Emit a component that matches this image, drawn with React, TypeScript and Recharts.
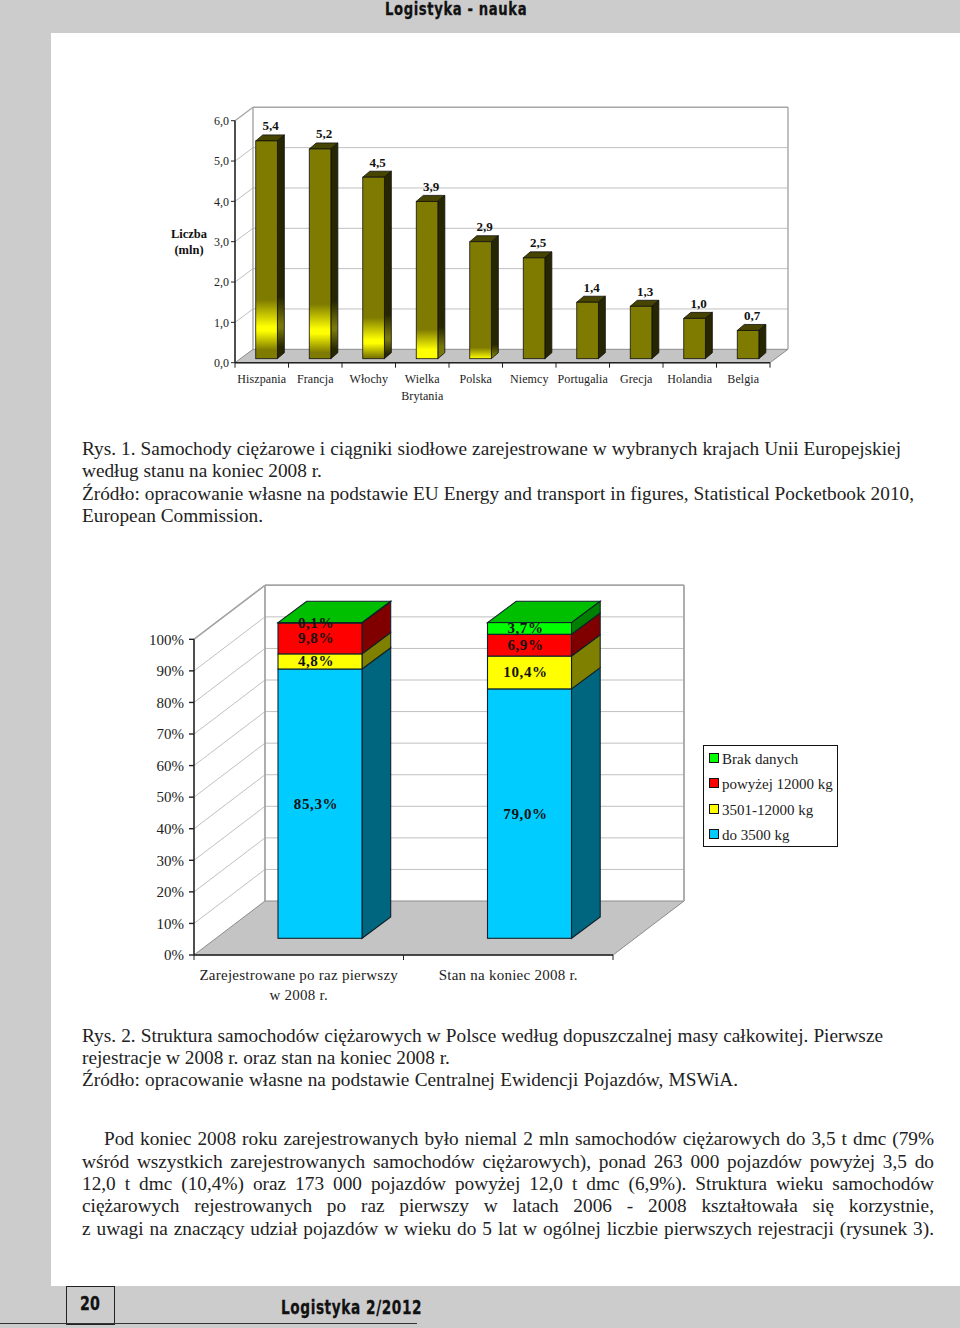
import { BarChart, Bar, XAxis, YAxis, CartesianGrid, LabelList, Legend } from 'recharts';

// chart 1: trucks and tractors by country
const countries = ['Hiszpania', 'Francja', 'Włochy', 'Wielka\nBrytania', 'Polska', 'Niemcy', 'Portugalia', 'Grecja', 'Holandia', 'Belgia'];
const vehicleCounts = [5.4, 5.2, 4.5, 3.9, 2.9, 2.5, 1.4, 1.3, 1.0, 0.7];
const countTicks = [0, 1, 2, 3, 4, 5, 6];

// chart 2: structure by permissible mass
const groups = ['Zarejestrowane po raz pierwszy\nw 2008 r.', 'Stan na koniec 2008 r.'];
const upTo3500 = [85.3, 79.0];
const from3501 = [4.8, 10.4];
const over12000 = [9.8, 6.9];
const noData = [0.1, 3.7];
const percentTicks = [0, 10, 20, 30, 40, 50, 60, 70, 80, 90, 100];
const legendOrder = ['Brak danych', 'powyżej 12000 kg', '3501-12000 kg', 'do 3500 kg'];

const countData = countries.map((name, i) => ({ name, value: vehicleCounts[i] }));
const massData = groups.map((name, i) => ({
  name,
  upTo3500: upTo3500[i],
  from3501: from3501[i],
  over12000: over12000[i],
  noData: noData[i],
}));

// yellow glow on the olive bars: [start, peak, end] as share of bar height from the base
const glows: Record<number, number[]> = {
  0: [0.27, 0.147, 0.04],
  1: [0.26, 0.14, 0.03],
  2: [0.227, 0.105, 0.01],
  3: [0.185, 0.057, 0],
  4: [0.094, 0, 0],
};

const SERIF = '"Liberation Serif", serif';
const comma = (v: number) => v.toFixed(1).replace('.', ',');

// back wall, side wall and floor of the fake 3d box, drawn from the grid lines
function wallLine(dx: number, dy: number, plotHeight: number, thin: string) {
  return (p: any) => {
    const { x1, x2, y1, key } = p;
    const bottom = Math.abs(y1 - (p.offset?.top ?? 0) - plotHeight) < 0.5;
    const isTop = Math.abs(y1 - (p.offset?.top ?? 0)) < 0.5;
    return (
      <g key={key}>
        {bottom && (
          <polygon
            points={`${x1},${y1} ${x1 + dx},${y1 - dy} ${x2 + dx},${y1 - dy} ${x2},${y1}`}
            fill="#c4c4c4"
            stroke="#8c8c8c"
            strokeWidth={1}
          />
        )}
        {isTop && (
          <g stroke="#a6a6a6" strokeWidth={1.4}>
            <line x1={x1 + dx} y1={y1 - dy} x2={x1 + dx} y2={y1 - dy + plotHeight} />
            <line x1={x2 + dx} y1={y1 - dy} x2={x2 + dx} y2={y1 - dy + plotHeight} />
          </g>
        )}
        {!bottom && <line x1={x1 + dx} y1={y1 - dy} x2={x2 + dx} y2={y1 - dy} stroke={isTop ? '#a6a6a6' : '#c0c0c0'} strokeWidth={isTop ? 1.4 : 1} />}
        {!bottom && <line x1={x1} y1={y1} x2={x1 + dx} y2={y1 - dy} stroke={isTop ? '#a6a6a6' : thin} strokeWidth={isTop ? 1.4 : 1} />}
      </g>
    );
  };
}

function OliveBar(props: any) {
  const { x, y, width, height, index } = props;
  const fx = x + 4.75;
  const fy = y - 4;
  const dx = 7;
  const dy = 6;
  const glow = glows[index];
  const stops = (base: string, peak: string) => {
    if (!glow) return null;
    const [start, top, end] = glow;
    return (
      <>
        <stop offset={1 - start} stopColor={base} />
        <stop offset={1 - top} stopColor={peak} />
        <stop offset={1 - top + 0.02} stopColor={peak} />
        <stop offset={1 - end} stopColor={end === 0 ? peak : base} />
      </>
    );
  };
  const front = glow ? `url(#glowFront${index})` : '#7f7b00';
  const side = glow ? `url(#glowSide${index})` : '#262600';
  return (
    <g>
      {glow && (
        <defs>
          <linearGradient id={`glowFront${index}`} gradientUnits="userSpaceOnUse" x1={0} x2={0} y1={fy} y2={fy + height}>
            {stops('#7f7b00', '#ffff00')}
          </linearGradient>
          <linearGradient id={`glowSide${index}`} gradientUnits="userSpaceOnUse" x1={0} x2={0} y1={fy - dy / 2} y2={fy + height - dy / 2}>
            {stops('#262600', '#77770a')}
          </linearGradient>
        </defs>
      )}
      <polygon points={`${fx},${fy} ${fx + dx},${fy - dy} ${fx + width + dx},${fy - dy} ${fx + width},${fy}`} fill="#474400" stroke="#111" strokeWidth={0.8} />
      <polygon points={`${fx + width},${fy} ${fx + width + dx},${fy - dy} ${fx + width + dx},${fy + height - dy} ${fx + width},${fy + height}`} fill={side} stroke="#111" strokeWidth={0.8} />
      <rect x={fx} y={fy} width={width} height={height} fill={front} stroke="#111" strokeWidth={0.8} />
    </g>
  );
}

function StackBlock(props: any) {
  const { x, y, width, height, fill, sideFill, topFill } = props;
  const fx = x + 21;
  const fy = y - 16.7;
  const dx = 28.7;
  const dy = 21.3;
  return (
    <g stroke="#10202a" strokeWidth={1.1}>
      {topFill && <polygon points={`${fx},${fy} ${fx + dx},${fy - dy} ${fx + width + dx},${fy - dy} ${fx + width},${fy}`} fill={topFill} />}
      <polygon points={`${fx + width},${fy} ${fx + width + dx},${fy - dy} ${fx + width + dx},${fy + height - dy} ${fx + width},${fy + height}`} fill={sideFill} />
      <rect x={fx} y={fy} width={width} height={height} fill={fill} />
    </g>
  );
}

function countLabel(p: any) {
  const { x, y, width, value } = p;
  return (
    <text x={x + width / 2 + 8.75} y={y - 14.5} textAnchor="middle" fontFamily={SERIF} fontSize={13} fontWeight="bold" fill="#111">
      {comma(value)}
    </text>
  );
}

function massLabel(p: any) {
  const { x, y, width, height, value } = p;
  return (
    <text
      x={x + width / 2 + 17}
      y={y + height / 2 - 16.7 + 5}
      textAnchor="middle"
      fontFamily={SERIF}
      fontSize={15}
      fontWeight="bold"
      letterSpacing={0.6}
      fill="#111"
    >
      {comma(value)}%
    </text>
  );
}

// tick marks in this chart sit between categories, so they are drawn with the labels
function categoryTick(band: number, fontSize: number, lineGap: number, axisY: number, spacing: number, drop: number) {
  return (p: any) => {
    const { x, y, payload, index } = p;
    const lines = String(payload.value).split('\n');
    const last = index === p.visibleTicksCount - 1;
    return (
      <g>
        <line x1={x - band / 2} x2={x - band / 2} y1={axisY} y2={axisY + 5} stroke="#222" />
        {last && <line x1={x + band / 2} x2={x + band / 2} y1={axisY} y2={axisY + 5} stroke="#222" />}
        <text x={x} y={y + drop} textAnchor="middle" fontFamily={SERIF} fontSize={fontSize} letterSpacing={spacing} fill="#222">
          {lines.map((line, i) => (
            <tspan key={line} x={x} dy={i === 0 ? 0 : lineGap}>
              {line}
            </tspan>
          ))}
        </text>
      </g>
    );
  };
}

function MassLegend({ payload }: any) {
  const items = legendOrder.map((name) => (payload || []).find((item: any) => item.value === name)).filter(Boolean);
  return (
    <div style={{ border: '1.5px solid #111', background: '#fff', width: 133, height: 100, boxSizing: 'content-box', fontFamily: SERIF, fontSize: 15, color: '#222', position: 'relative' }}>
      {items.map((item: any, i: number) => (
        <div key={item.value} style={{ position: 'absolute', left: 5, top: 3 + i * 25.3, height: 20, lineHeight: '20px', whiteSpace: 'nowrap', textAlign: 'left' }}>
          <span style={{ display: 'inline-block', width: 8, height: 8, background: item.color, border: '1px solid #111', marginRight: 3, verticalAlign: 1 }} />
          {item.value}
        </div>
      ))}
    </div>
  );
}

const captionLines = [
  { text: 'Rys. 1. Samochody ciężarowe i ciągniki siodłowe zarejestrowane w wybranych krajach Unii Europejskiej', x: 82, y: 449, w: 819 },
  { text: 'według stanu na koniec 2008 r.', x: 82, y: 471 },
  { text: 'Źródło: opracowanie własne na podstawie EU Energy and transport in figures, Statistical Pocketbook 2010,', x: 82, y: 494, w: 832 },
  { text: 'European Commission.', x: 82, y: 516 },
  { text: 'Rys. 2. Struktura samochodów ciężarowych w Polsce według dopuszczalnej masy całkowitej. Pierwsze', x: 82, y: 1036, w: 801 },
  { text: 'rejestracje w 2008 r. oraz stan na koniec 2008 r.', x: 82, y: 1058 },
  { text: 'Źródło: opracowanie własne na podstawie Centralnej Ewidencji Pojazdów, MSWiA.', x: 82, y: 1080, w: 656 },
  { text: 'Pod koniec 2008 roku zarejestrowanych było niemal 2 mln samochodów ciężarowych do 3,5 t dmc (79%', x: 104, y: 1139, w: 830 },
  { text: 'wśród wszystkich zarejestrowanych samochodów ciężarowych), ponad 263 000 pojazdów powyżej 3,5 do', x: 82, y: 1162, w: 852 },
  { text: '12,0 t dmc (10,4%) oraz 173 000 pojazdów powyżej 12,0 t dmc (6,9%). Struktura wieku samochodów', x: 82, y: 1184, w: 852 },
  { text: 'ciężarowych rejestrowanych po raz pierwszy w latach 2006 - 2008 kształtowała się korzystnie,', x: 82, y: 1206, w: 852 },
  { text: 'z uwagi na znaczący udział pojazdów w wieku do 5 lat w ogólnej  liczbie  pierwszych  rejestracji (rysunek 3).', x: 82, y: 1229, w: 852 },
];

const HEAD_FONT = { fontFamily: '"DejaVu Sans", sans-serif', fontWeight: 'bold', color: '#111', transformOrigin: 'left center', whiteSpace: 'nowrap', WebkitTextStroke: '0.3px #111' } as const;

export default function App() {
  return (
    <div style={{ position: 'absolute', left: 0, top: 0, width: 960, height: 1328, background: '#cccccc', overflow: 'hidden' }}>
      <div style={{ position: 'absolute', left: 51, top: 33, width: 909, height: 1253, background: '#fff' }} />

      <div style={{ ...HEAD_FONT, position: 'absolute', left: 385, top: 0, fontSize: 17, letterSpacing: 0.8, lineHeight: '19px', transform: 'scaleX(0.775)' }}>
        Logistyka - nauka
      </div>

      <div style={{ position: 'absolute', left: 0, top: 0 }}>
        <BarChart
          width={960}
          height={420}
          data={countData}
          margin={{ left: 175, right: 190, top: 120.7, bottom: 17.3 }}
          barSize={21.6}
        >
          <CartesianGrid vertical={false} horizontal={wallLine(18, 13.4, 242, '#c0c0c0')} />
          <XAxis
            dataKey="name"
            interval={0}
            height={40}
            tickLine={false}
            axisLine={{ stroke: '#222', strokeWidth: 1.6 }}
            tick={categoryTick(53.5, 12, 17, 362.7, 0.1, 12)}
          />
          <YAxis
            width={60}
            domain={[0, 6]}
            ticks={countTicks}
            tickFormatter={comma}
            tickSize={4}
            tickMargin={2}
            tick={{ fontFamily: SERIF, fontSize: 12, fill: '#222' }}
            tickLine={{ stroke: '#222' }}
            axisLine={{ stroke: '#222', strokeWidth: 1.6 }}
          />
          <Bar dataKey="value" shape={OliveBar} isAnimationActive={false}>
            <LabelList dataKey="value" content={countLabel} />
          </Bar>
        </BarChart>
      </div>
      <div style={{ position: 'absolute', left: 159, top: 226, width: 60, textAlign: 'center', fontFamily: SERIF, fontSize: 12.5, fontWeight: 'bold', lineHeight: '16px', color: '#111' }}>
        Liczba
        <br />
        (mln)
      </div>

      <div style={{ position: 'absolute', left: 0, top: 560 }}>
        <BarChart
          width={960}
          height={460}
          data={massData}
          margin={{ left: 134, right: 347, top: 79.3, bottom: 15 }}
          barSize={84}
        >
          <CartesianGrid vertical={false} horizontal={wallLine(71, 54, 315.7, '#c0c0c0')} />
          <XAxis
            dataKey="name"
            interval={0}
            height={50}
            tickLine={false}
            axisLine={{ stroke: '#222', strokeWidth: 1.6 }}
            tick={categoryTick(209.5, 15, 20, 395, 0.25, 17)}
          />
          <YAxis
            width={60}
            domain={[0, 100]}
            ticks={percentTicks}
            tickFormatter={(v: number) => `${v}%`}
            tickSize={5}
            tickMargin={5}
            tick={{ fontFamily: SERIF, fontSize: 15, fill: '#222' }}
            tickLine={{ stroke: '#222', strokeWidth: 1.4 }}
            axisLine={{ stroke: '#222', strokeWidth: 1.6 }}
          />
          <Legend
            layout="horizontal"
            verticalAlign="middle"
            align="center"
            content={MassLegend}
            wrapperStyle={{ position: 'absolute', left: 703, top: 185, width: 136, height: 103, margin: 0 }}
          />
          <Bar dataKey="upTo3500" name="do 3500 kg" stackId="a" fill="#00ccff" shape={(p: any) => <StackBlock {...p} sideFill="#006680" />} isAnimationActive={false}>
            <LabelList dataKey="upTo3500" content={massLabel} />
          </Bar>
          <Bar dataKey="from3501" name="3501-12000 kg" stackId="a" fill="#ffff00" shape={(p: any) => <StackBlock {...p} sideFill="#808000" />} isAnimationActive={false}>
            <LabelList dataKey="from3501" content={massLabel} />
          </Bar>
          <Bar dataKey="over12000" name="powyżej 12000 kg" stackId="a" fill="#ff0000" shape={(p: any) => <StackBlock {...p} sideFill="#800000" />} isAnimationActive={false}>
            <LabelList dataKey="over12000" content={massLabel} />
          </Bar>
          <Bar dataKey="noData" name="Brak danych" stackId="a" fill="#00ff00" shape={(p: any) => <StackBlock {...p} sideFill="#008000" topFill="#00bf00" />} isAnimationActive={false}>
            <LabelList dataKey="noData" content={massLabel} />
          </Bar>
        </BarChart>
      </div>

      {captionLines.map((line) => (
        <div
          key={line.text}
          style={{
            position: 'absolute',
            left: line.x,
            top: line.y - 11,
            width: line.w,
            height: 22,
            lineHeight: '22px',
            fontFamily: SERIF,
            fontSize: 19.3,
            color: '#222',
            whiteSpace: line.w ? 'normal' : 'nowrap',
            textAlign: 'justify',
            textAlignLast: line.w ? 'justify' : 'left',
          }}
        >
          {line.text}
        </div>
      ))}

      <div style={{ position: 'absolute', left: 66, top: 1286, width: 47, height: 37, border: '1.5px solid #222' }} />
      <div style={{ position: 'absolute', left: 0, top: 1322.5, width: 417, height: 1.5, background: '#333' }} />
      <div style={{ ...HEAD_FONT, position: 'absolute', left: 80, top: 1292, fontSize: 20, lineHeight: '22px', transform: 'scaleX(0.71)' }}>20</div>
      <div style={{ ...HEAD_FONT, position: 'absolute', left: 281, top: 1296, fontSize: 19, letterSpacing: 0.8, lineHeight: '22px', transform: 'scaleX(0.72)' }}>
        Logistyka 2/2012
      </div>
    </div>
  );
}
